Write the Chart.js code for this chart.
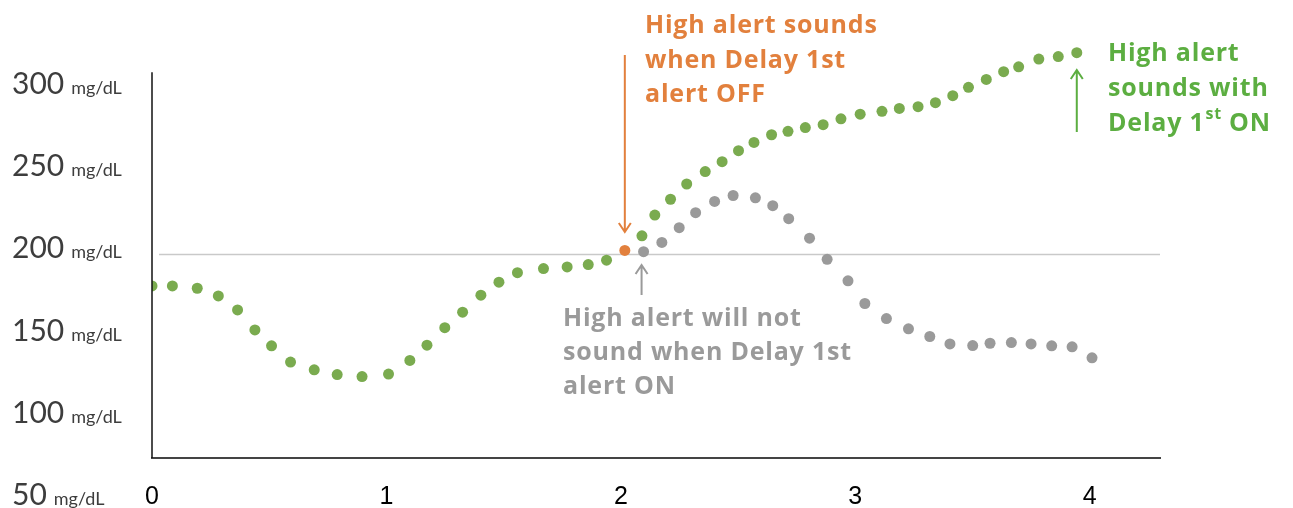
<!DOCTYPE html>
<html lang="en">
<head>
  <meta charset="UTF-8">
  <title>Delay 1st High alert</title>
  <script src="https://cdn.jsdelivr.net/npm/chart.js"></script>
  <style>
    body {
      margin: 0;
      background: #fff;
    }
    canvas {
      display: block;
    }
  </style>
</head>
<body>
  <canvas id="bgChart" width="1293" height="508"></canvas>

  <script>
    // x in hours, y in mg/dL
    const xTicks = [0, 1, 2, 3, 4];
    const yTicks = [50, 100, 150, 200, 250, 300];
    const highLimit = 200;
    const yAxisTop = 311;

    // Delay 1st ON: reading keeps rising
    const greenX = [0, 0.087, 0.193, 0.283, 0.365, 0.439, 0.510, 0.591, 0.692, 0.790, 0.896, 1.009, 1.100, 1.173,
      1.249, 1.325, 1.403, 1.480, 1.559, 1.670, 1.771, 1.861, 1.939,
      2.090, 2.145, 2.212, 2.281, 2.360, 2.432, 2.502, 2.568, 2.643, 2.713, 2.787, 2.863, 2.939, 3.021,
      3.114, 3.188, 3.268, 3.342, 3.416, 3.483, 3.559, 3.633, 3.697, 3.783, 3.866, 3.945];
    const greenY = [180.8, 180.8, 179.4, 174.7, 166.2, 154.0, 144.3, 134.4, 129.7, 126.8, 125.6, 127.1, 135.4, 144.7,
      155.4, 164.8, 175.2, 183.1, 188.9, 191.4, 192.4, 193.8, 196.5,
      211.3, 224.0, 233.6, 242.9, 250.5, 256.5, 263.2, 268.2, 272.9, 275.0, 277.3, 279.0, 282.6, 285.4,
      287.2, 288.9, 290.0, 292.4, 296.7, 301.8, 306.6, 311.3, 314.3, 319.0, 320.5, 322.9];

    // alert point when Delay 1st is OFF
    const orangeX = [2.017];
    const orangeY = [202.4];

    // Delay 1st ON: reading comes back down
    const grayX = [2.097, 2.175, 2.249, 2.319, 2.400, 2.479, 2.574, 2.648, 2.716, 2.805, 2.880, 2.969,
      3.041, 3.133, 3.227, 3.318, 3.404, 3.501, 3.575, 3.666, 3.750, 3.838, 3.925, 4.010];
    const grayY = [201.7, 207.3, 216.3, 225.4, 232.3, 235.9, 234.5, 229.7, 221.8, 209.9, 197.0, 183.9,
      170.1, 160.9, 154.7, 150.0, 145.5, 144.5, 145.9, 146.3, 145.5, 144.3, 143.7, 137.0];

    const GREEN = '#7aab4f';
    const GREEN_TEXT = '#5cae41';
    const ORANGE = '#e2803d';
    const GRAY = '#9a9a9a';
    const NOTE_FONT = 'bold 25px "Open Sans"';

    function toPoints(xs, ys) {
      return xs.map((x, i) => ({ x: x, y: ys[i] }));
    }

    function drawArrow(ctx, x, yFrom, yTo, color) {
      const dir = yTo > yFrom ? 1 : -1;
      ctx.save();
      ctx.strokeStyle = color;
      ctx.lineWidth = 2;
      ctx.beginPath();
      ctx.moveTo(x, yFrom);
      ctx.lineTo(x, yTo);
      ctx.moveTo(x - 6, yTo - dir * 9);
      ctx.lineTo(x, yTo);
      ctx.lineTo(x + 6, yTo - dir * 9);
      ctx.stroke();
      ctx.restore();
    }

    function drawLines(ctx, lines, x, baselines, color) {
      ctx.fillStyle = color;
      ctx.font = NOTE_FONT;
      ctx.letterSpacing = '0.8px';
      ctx.textAlign = 'left';
      ctx.textBaseline = 'alphabetic';
      lines.forEach((t, i) => ctx.fillText(t, x, baselines[i]));
    }

    const labelsPlugin = {
      id: 'labels',
      afterDraw(chart) {
        const ctx = chart.ctx;
        const xs = chart.scales.x;
        const ys = chart.scales.y;

        // y axis line (stops at yAxisTop, points may go above it)
        ctx.save();
        ctx.strokeStyle = '#111';
        ctx.lineWidth = 1.5;
        ctx.beginPath();
        ctx.moveTo(chart.chartArea.left, ys.getPixelForValue(yAxisTop));
        ctx.lineTo(chart.chartArea.left, chart.chartArea.bottom);
        ctx.stroke();
        ctx.restore();

        // y tick labels with a small unit
        ctx.save();
        ctx.fillStyle = '#3d3d3d';
        ctx.textBaseline = 'alphabetic';
        yTicks.forEach(v => {
          const py = ys.getPixelForValue(v) + 4;
          ctx.font = '30px Lato';
          const num = String(v);
          ctx.fillText(num, 12, py);
          const w = ctx.measureText(num).width;
          ctx.font = '18px Lato';
          ctx.fillText('mg/dL', 12 + w + 7, py);
        });
        ctx.restore();

        ctx.save();
        drawArrow(ctx, xs.getPixelForValue(orangeX[0]), 55, 232, ORANGE);
        drawArrow(ctx, xs.getPixelForValue(grayX[0]) - 2, 295, 265, GRAY);
        drawArrow(ctx, xs.getPixelForValue(greenX[greenX.length - 1]), 132, 70, GREEN_TEXT);

        drawLines(ctx, ['High alert sounds', 'when Delay 1st', 'alert OFF'], 645, [33, 68, 102], ORANGE);
        drawLines(ctx, ['High alert will not', 'sound when Delay 1st', 'alert ON'], 563, [326, 360, 394], GRAY);
        drawLines(ctx, ['High alert', 'sounds with'], 1108, [61, 96], GREEN_TEXT);

        // "Delay 1st ON" with superscript
        let gx = 1108;
        ctx.font = NOTE_FONT;
        ctx.fillText('Delay 1', gx, 131);
        gx += ctx.measureText('Delay 1').width + 1;
        ctx.font = 'bold 16px "Open Sans"';
        ctx.fillText('st', gx, 119);
        gx += ctx.measureText('st').width + 7;
        ctx.font = NOTE_FONT;
        ctx.fillText('ON', gx, 131);
        ctx.restore();
      }
    };

    const chart = new Chart(document.getElementById('bgChart').getContext('2d'), {
      type: 'scatter',
      data: {
        datasets: [
          { label: 'Delay 1st ON', data: toPoints(greenX, greenY), backgroundColor: GREEN, pointRadius: 5.5, borderWidth: 0 },
          { label: 'Alert (Delay 1st OFF)', data: toPoints(orangeX, orangeY), backgroundColor: ORANGE, pointRadius: 5.5, borderWidth: 0 },
          { label: 'No alert', data: toPoints(grayX, grayY), backgroundColor: GRAY, pointRadius: 5.5, borderWidth: 0 },
          { type: 'line', label: 'High limit', data: [{ x: 0.03, y: highLimit }, { x: 4.3, y: highLimit }],
            borderColor: '#c9c9c9', borderWidth: 1.5, pointRadius: 0, fill: false }
        ]
      },
      options: {
        responsive: false,
        animation: false,
        devicePixelRatio: 1,
        layout: { padding: { top: 41, right: 133, bottom: 0, left: 0 } },
        plugins: {
          legend: { display: false },
          tooltip: { enabled: false }
        },
        scales: {
          x: {
            type: 'linear',
            min: 0,
            max: 4.3,
            afterBuildTicks: s => { s.ticks = xTicks.map(v => ({ value: v })); },
            afterFit: s => { s.height = 50; },
            grid: { display: false, drawTicks: false },
            border: { color: '#444', width: 2 },
            ticks: { color: '#000', font: { family: 'Liberation Sans', size: 25 }, padding: 24, maxRotation: 0 }
          },
          y: {
            min: 76,
            max: 330,
            afterFit: s => { s.width = 152; },
            grid: { display: false, drawTicks: false },
            border: { display: false },
            ticks: { display: false }
          }
        }
      },
      plugins: [labelsPlugin]
    });
  </script>
</body>
</html>
